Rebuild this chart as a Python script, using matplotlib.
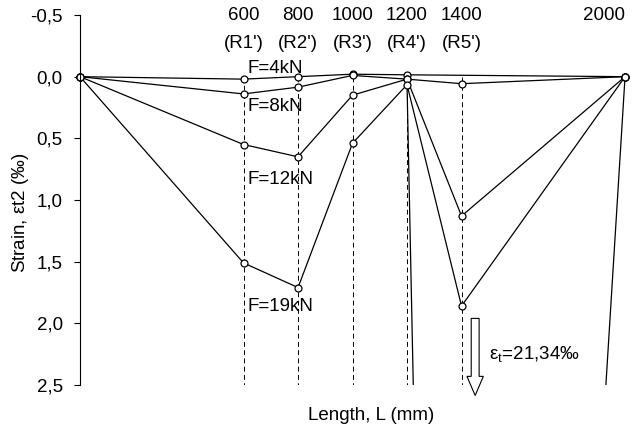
import matplotlib
matplotlib.use("Agg")
import matplotlib.pyplot as plt
import matplotlib.patches as mpatches
from matplotlib.ticker import FuncFormatter

plt.rcParams["font.family"] = ["Liberation Sans", "DejaVu Sans"]
FS = 13.5

# ── Data (strain in per mille, position in mm) ──
x_full = [0, 600, 800, 1000, 1200, 1400, 2000]
f4_x = [0, 600, 800, 1000, 1200, 2000]
f4_y = [0, 0.02, 0.0, -0.02, -0.015, 0]
f8_y = [0, 0.14, 0.085, -0.01, 0.02, 0.057, 0]
f12_y = [0, 0.55, 0.65, 0.15, 0.02, 1.13, 0]
f19_y = [0, 1.51, 1.71, 0.54, 0.065, 1.86, 0]
# failure series, peak far below the plotted range
fail_x = [1200, 1400, 2000]
fail_y = [0.065, 21.34, 0]

section_x = [600, 800, 1000, 1200, 1400]
top_ticks = [600, 800, 1000, 1200, 1400, 2000]
top_names = ["(R1')", "(R2')", "(R3')", "(R4')", "(R5')", ""]

series_labels = ["F=4kN", "F=8kN", "F=12kN", "F=19kN"]
label_pos_y = [-0.07, 0.245, 0.83, 1.86]
label_x = 615

fig = plt.figure(figsize=(6.34, 4.32), dpi=100)
ax = fig.add_axes([80 / 634, 47 / 432, 550.5 / 634, 370 / 432])

# dashed section lines
ax.vlines(section_x, 0, 2.5, colors="black", linestyles=(0, (5, 3.5)), linewidth=0.7)

mk = dict(marker="o", markersize=5, markerfacecolor="white",
          markeredgecolor="black", markeredgewidth=0.9)
ax.plot(fail_x, fail_y, color="black", linewidth=0.9)
ax.plot(f4_x, f4_y, color="black", linewidth=0.9, clip_on=False, **mk)
for ys in (f8_y, f12_y, f19_y):
    ax.plot(x_full, ys, color="black", linewidth=0.9, clip_on=False, **mk)

for lab, yy in zip(series_labels, label_pos_y):
    ax.text(label_x, yy, lab, ha="left", va="center", fontsize=FS)

# top labels
for xt, nm in zip(top_ticks, top_names):
    ha = "right" if xt == 2000 else "center"
    ax.text(xt, -0.5, str(xt), ha=ha, va="center", fontsize=FS)
    if nm:
        ax.text(xt, -0.27, nm, ha="center", va="center", fontsize=FS)

# hollow arrow for the off-scale value
arrow = mpatches.FancyArrow(1450, 1.96, 0, 0.625, width=29, head_width=60,
                            head_length=0.155, length_includes_head=True,
                            facecolor="white", edgecolor="black", linewidth=0.8,
                            clip_on=False)
ax.add_patch(arrow)
ax.text(1500, 2.25, r"$\mathregular{\varepsilon_t}$=21,34‰", ha="left",
        va="center", fontsize=FS)

ax.set_xlim(0, 2020)
ax.set_ylim(2.5, -0.5)
ax.set_yticks([-0.5, 0.0, 0.5, 1.0, 1.5, 2.0, 2.5])
ax.yaxis.set_major_formatter(FuncFormatter(lambda v, p: f"{v:.1f}".replace(".", ",")))
ax.tick_params(axis="y", direction="out", length=4.5, width=0.8, pad=8, labelsize=FS)
ax.set_xticks([])
for s in ("top", "right", "bottom"):
    ax.spines[s].set_visible(False)
ax.spines["left"].set_linewidth(0.8)

fig.text(21 / 634, 1 - 213 / 432, r"Strain, $\mathregular{\varepsilon t2}$ (‰)", rotation=90,
         ha="center", va="center", fontsize=FS)
fig.text(371 / 634, 1 - 415 / 432, "Length, L (mm)", ha="center", va="center",
         fontsize=FS)

fig.savefig("out.png", dpi=100, facecolor="white")
